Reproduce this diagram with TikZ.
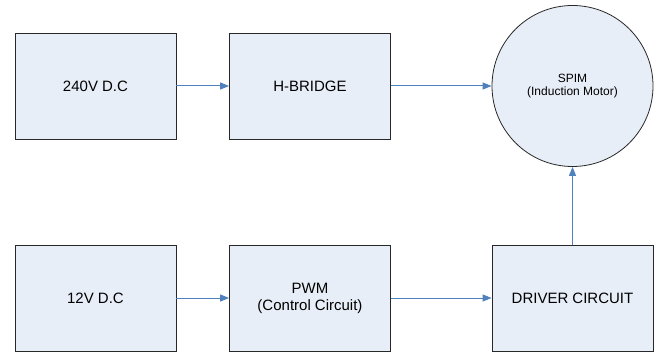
\documentclass[tikz,border=0pt]{standalone}
\usepackage{fontspec}
\setmainfont{Liberation Sans}
\usetikzlibrary{arrows.meta}
\definecolor{boxfill}{RGB}{232,238,247}
\definecolor{linkblue}{RGB}{79,129,189}
\definecolor{edgegray}{RGB}{40,40,40}
\begin{document}
\begin{tikzpicture}[x=1pt,y=-1pt,
  block/.style={draw=edgegray,line width=0.8pt,fill=boxfill,minimum width=161pt,minimum height=106pt,
    inner sep=0pt,align=center,font=\fontsize{15}{17}\selectfont},
  motor/.style={draw=edgegray,line width=0.8pt,fill=boxfill,circle,minimum size=161pt,inner sep=0pt,
    align=center,font=\fontsize{12}{13.5}\selectfont},
  link/.style={draw=linkblue,line width=1pt,-{Triangle[length=9pt,width=7pt]}}]
\useasboundingbox (0,0) rectangle (663,355);
\node[block] (dc240) at (95.5,86) {240V D.C};
\node[block] (hb) at (310,86) {H-BRIDGE};
\node[motor] (spim) at (572.5,86) {SPIM\\(Induction Motor)};
\node[block] (dc12) at (95.5,298) {12V D.C};
\node[block] (pwm) at (310,298) {PWM\\(Control Circuit)};
\node[block] (drv) at (572.5,298) {DRIVER CIRCUIT};
\draw[link] (dc240) -- (hb);
\draw[link] (hb) -- (spim);
\draw[link] (dc12) -- (pwm);
\draw[link] (pwm) -- (drv);
\draw[link] (drv) -- (spim);
\end{tikzpicture}
\end{document}
